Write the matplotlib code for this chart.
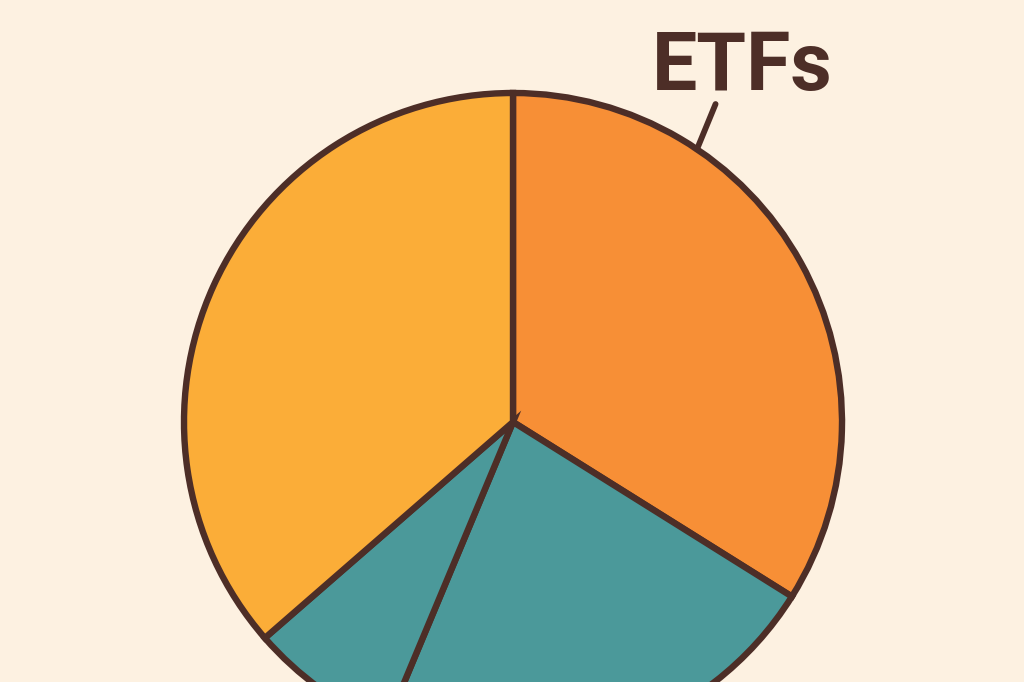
import numpy as np
import matplotlib.pyplot as plt

# === Data ===
labels = ["ETFs", "Bonds", "Cash", "Stocks"]
shares = [33.9, 22.4, 7.3, 36.4]
colors = ["#F78F36", "#4B999A", "#4B999A", "#FBAD38"]

bg = "#FDF1E1"
edge = "#4D2E27"

fig = plt.figure(figsize=(10.24, 6.82), dpi=100, facecolor=bg)
ax = fig.add_axes([0, 0, 1, 1])
ax.set_facecolor(bg)

cx, cy, r = 513, 260, 329
wedges, _ = ax.pie(shares, colors=colors, startangle=90, counterclock=False,
                   center=(cx, cy), radius=r, frame=True,
                   wedgeprops=dict(edgecolor=edge, linewidth=4.6, joinstyle="miter"))
ax.set_xlim(0, 1024)
ax.set_ylim(0, 682)
ax.set_aspect("equal")
ax.axis("off")

# leader line + label for the first slice only
ang = np.deg2rad(56)
x0, y0 = cx + r * np.cos(ang), cy + r * np.sin(ang)
x1, y1 = cx + 377 * np.cos(np.deg2rad(57.5)), cy + 377 * np.sin(np.deg2rad(57.5))
ax.plot([x0, x1], [y0, y1], color=edge, lw=4.2, solid_capstyle="round")
ax.text(742, 614, labels[0], ha="center", va="center", fontsize=58,
        fontweight="bold", family="Roboto", color=edge)

fig.savefig("out.png", dpi=100, facecolor=bg)
